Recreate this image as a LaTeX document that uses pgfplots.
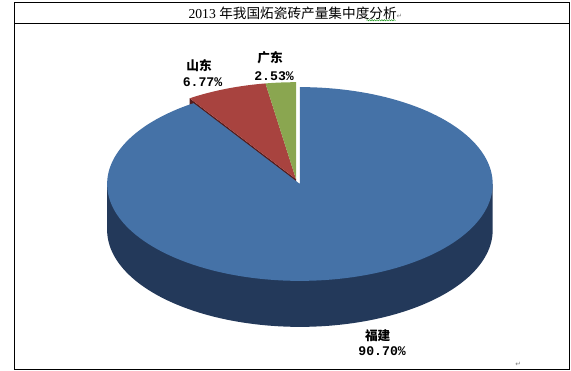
\documentclass[border=0pt]{standalone}
\usepackage{pgfplots}
\usepackage{pgfplotstable}
\pgfplotsset{compat=1.18}
\usetikzlibrary{decorations.pathmorphing}
\usepackage{fontspec}
\setmainfont{Liberation Serif}
\newfontfamily\cjk{Noto Sans CJK SC}
\newfontfamily\monob{Liberation Mono}
\newfontfamily\dejavu{DejaVu Sans}
\definecolor{btop}{RGB}{69,114,167}
\definecolor{bside}{RGB}{35,57,90}
\definecolor{rtop}{RGB}{168,67,63}
\definecolor{rdark}{RGB}{85,28,28}
\definecolor{gtop}{RGB}{138,166,80}
\pgfplotstableread{
region share
Fujian 90.70
Shandong 6.77
Guangdong 2.53
}\piedata
\begin{document}
\pgfplotstablegetelem{0}{share}\of\piedata \let\sFJ\pgfplotsretval
\pgfplotstablegetelem{1}{share}\of\piedata \let\sSD\pgfplotsretval
\pgfplotstablegetelem{2}{share}\of\piedata \let\sGD\pgfplotsretval
\pgfmathsetmacro\aG{90+3.6*\sGD}
\pgfmathsetmacro\aR{90+3.6*(\sGD+\sSD)}
\pgfmathsetmacro\aB{90-3.6*\sFJ}
\pgfmathsetmacro\Px{290+197*cos(\aR)}
\pgfmathsetmacro\Py{196+99*sin(\aR)}
\begin{tikzpicture}
\begin{axis}[at={(0,0)}, anchor=south west, width=571bp, height=379bp, scale only axis,
  xmin=0, xmax=571, ymin=0, ymax=379, hide axis, clip=false]
% frame and title
\draw[line width=1bp] (axis cs:2.5,1.5) rectangle (axis cs:569.5,376.5);
\draw[line width=1bp] (axis cs:2.5,355) -- (axis cs:569.5,355);
\node[anchor=west, inner sep=0pt] at (axis cs:180,365.5)
  {\fontsize{14}{16}\selectfont 2013 \cjk 年我国炻瓷砖产量集中度分析\textcolor{gray}{\dejavu\fontsize{7}{8}\selectfont ↵}};
\draw[green!55!black, line width=0.4bp, decorate, decoration={snake, amplitude=0.7bp, segment length=2.5bp}]
  (axis cs:362,358.3) -- (axis cs:392,358.3);
\node[text=gray, inner sep=0pt] at (axis cs:517,6.5) {\dejavu\fontsize{7}{8}\selectfont ↵};
% back slices: Guangdong, Shandong (slightly apart)
\addplot[fill=rdark, draw=none] coordinates {(290,196) (\Px,\Py) (\Px,\Py-47) (290,149)} -- cycle;
\addplot[fill=rtop, draw=none, domain=\aG:\aR, samples=40] ({290+197*cos(x)},{196+99*sin(x)}) -- (290,196) -- cycle;
\addplot[fill=gtop, draw=none, domain=90:\aG, samples=20] ({290+197*cos(x)},{196+99*sin(x)}) -- (290,196) -- cycle;
% Fujian: side wall then top
\addplot[fill=bside, draw=none, domain=180:360, samples=100] ({294+197*cos(x)},{144+99*sin(x)}) -- (491,191) -- (97,191) -- cycle;
\addplot[fill=btop, draw=none, domain=\aB:90, samples=160] ({294+197*cos(x)},{191+99*sin(x)}) -- (294,191) -- cycle;
% labels
\node[inner sep=0pt] at (axis cs:191,312.4) {\cjk\bfseries\fontsize{13}{14}\selectfont 山东};
\node[inner sep=0pt] at (axis cs:194.5,295.2) {\monob\bfseries\fontsize{13.5}{14}\selectfont 6.77\%};
\node[inner sep=0pt] at (axis cs:263.5,319.6) {\cjk\bfseries\fontsize{13}{14}\selectfont 广东};
\node[inner sep=0pt] at (axis cs:267.6,301.6) {\monob\bfseries\fontsize{13.5}{14}\selectfont 2.53\%};
\node[inner sep=0pt] at (axis cs:373.5,36.3) {\cjk\bfseries\fontsize{13}{14}\selectfont 福建};
\node[inner sep=0pt] at (axis cs:378,20) {\monob\bfseries\fontsize{13.5}{14}\selectfont 90.70\%};
\end{axis}
\pgfresetboundingbox
\useasboundingbox (0,0) rectangle (571bp,379bp);
\end{tikzpicture}
\end{document}
